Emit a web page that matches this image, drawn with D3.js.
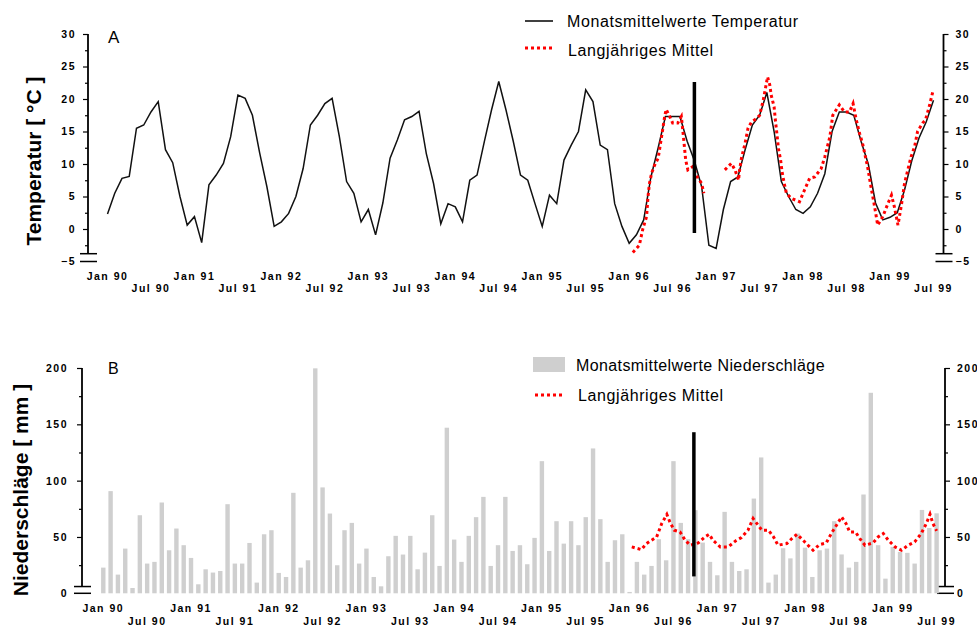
<!DOCTYPE html>
<html>
<head>
<meta charset="utf-8">
<script src="https://cdn.jsdelivr.net/npm/d3@7"></script>
<style>
body { margin: 0; background: #fff; }
text { font-family: "Liberation Sans", Arial, sans-serif; fill: #000; }
</style>
</head>
<body>
<div id="chart"></div>
<script>
// frame
const FRAME_WIDTH = 977;
const FRAME_HEIGHT = 626;

// monthly mean temperature, Jan 90 .. Jul 99
const TEMP_MONTHLY = [
  2.3, 5.5, 7.8, 8.1, 15.5, 16, 18, 19.6, 12.2, 10.2, 5, 0.6,
  1.9, -2.1, 6.8, 8.3, 10.1, 14.2, 20.6, 20.1, 17.5, 11.7, 6.5, 0.4,
  1.1, 2.4, 5, 9.3, 16, 17.5, 19.3, 20.1, 14.2, 7.3, 5.5, 1.1,
  3.0, -0.9, 4, 10.9, 13.7, 16.8, 17.3, 18.1, 11.6, 7, 0.8, 3.9,
  3.4, 1.1, 7.5, 8.3, 13.4, 18.3, 22.7, 18.3, 13.5, 8.3, 7.5, 3.9,
  0.4, 5.2, 3.9, 10.6, 12.9, 15, 21.4, 19.6, 12.9, 12.2, 3.9, 0.4,
  -2.2, -0.9, 1.4, 8, 12.5, 17.3, 17.3, 17.3, 13.5, 10.5, 6.5, -2.5,
  -3, 3, 7.3, 8, 12.2, 16, 17.5, 21, 15, 7.3, 5, 3,
  2.4, 3.4, 5.5, 8.5, 15, 18, 18, 17.5, 13.5, 10, 4, 1.4,
  1.8, 2.5, 6, 10.5, 14, 16.5, 19.8
];

// long term temperature mean (month index from Jan 90, value)
const TEMP_MEAN_MONTH = [
  72.5, 73.4, 73.9, 74.4, 74.6, 74.8, 75.1, 75.5, 76.0, 76.4, 76.9, 77.1, 77.6, 78.0, 78.7, 79.2,
  79.4, 79.8, 80.1, 80.8, 81.4, 82.0, 82.3, 83.8, 85.2, 86.1, 86.6, 87.1, 87.2, 87.5, 88.0, 88.4,
  88.9, 89.6, 90.0, 90.5, 90.9, 91.1, 91.4, 91.6, 92.0, 92.2, 92.4, 92.6, 92.9, 93.1, 93.4, 93.7,
  94.4, 95.5, 96.2, 96.9, 97.6, 98.5, 99.0, 99.7, 100.1, 101.0, 101.7, 102.4, 102.9, 103.3, 103.8,
  104.2, 104.9, 105.4, 105.8, 106.3, 107.0, 107.7, 108.2, 108.6, 109.1, 109.6, 110.0, 110.5, 110.9,
  111.4, 111.8, 112.5, 112.9, 113.4, 113.9
];
const TEMP_MEAN_VALUE = [
  -3.6, -2.5, 0.1, 1.9, 5, 7, 8.6, 9.8, 10.9, 13.7, 17.3, 18.4, 17.3, 16.3, 16.3, 17.3,
  15.2, 10.6, 9.1, 9.6, 8, 7, 5.5, null, 9.1, 10.1, 9.1, 7.5, 8.8, 10.9, 13.2, 15.5,
  16.5, 17, 17.5, 19.8, 22.2, 23.4, 22.2, 20.6, 18.8, 16.5, 14.5, 12.4, 10.6, 8.8, 7, 5.5,
  4.7, 4.2, 6, 7.8, 8, 9.3, 11.1, 14.2, 17.5, 19.1, 18, 18, 19.3, 17, 14.7,
  13.2, 9.6, 6.3, 3.9, 0.6, 1.9, 3.9, 5.2, 3.4, 0.6, 3.9, 7, 9.3, 11.1,
  12.7, 15, 16.3, 16.8, 18.8, 21.1
];

// monthly precipitation, Jan 90 .. Jul 99
const RAIN_MONTHLY = [
  22.8, 90.7, 16.6, 39.7, 4.7, 69.3, 26.4, 27.9, 80.6, 38.2, 57.5, 42.7,
  31.4, 8, 21.3, 18.4, 19.8, 79.1, 26.4, 26.4, 44.7, 9.5, 52.4, 56,
  18.1, 14.5, 89.2, 22.8, 29.3, 199.7, 94, 70.8, 24.9, 56, 62.5, 26.4,
  39.7, 14.5, 6.2, 32.9, 51, 34.4, 51, 21.3, 36.1, 69.3, 24.3, 147,
  47.7, 27.9, 51, 67.6, 85.6, 24.3, 42.7, 85.6, 37.6, 42.7, 25.8, 49.2,
  117.3, 37.6, 64, 44.1, 64, 42.7, 67.6, 128.6, 65.8, 27.9, 47.1, 52.4,
  1.2, 27.9, 16.6, 24.3, 48, 29.3, 117.3, 62.5, 48, 73.8, 45, 27.9,
  16, 72.3, 27.9, 19.8, 21.3, 84.1, 120.6, 9.5, 16.6, 40, 31, 53,
  40.5, 14.5, 38.2, 39.7, 64, 34.5, 22.8, 27.9, 87.7, 178, 42.7, 13,
  41.2, 36.7, 35.9, 26.4, 74, 58, 71
];

// long term precipitation mean
const RAIN_MEAN_MONTH = [
  72.3, 73.6, 74.3, 75.0, 75.7, 76.4, 77.1, 77.5, 78.1, 78.9, 79.6, 80.3, 81.4, 82.3, 82.9, 83.4,
  84.4, 85.5, 86.5, 87.3, 88.2, 88.9, 89.4, 90.1, 91.0, 91.7, 92.3, 93.5, 94.2, 94.9, 95.5, 96.4,
  97.1, 98.0, 98.9, 99.6, 100.3, 101.0, 101.6, 102.1, 102.9, 103.5, 104.2, 105.3, 106.0, 106.7,
  107.4, 108.3, 109.2, 110.1, 111.0, 111.9, 112.6, 113.1, 113.5, 114.0
];
const RAIN_MEAN_VALUE = [
  41.2, 38.8, 44.1, 47.1, 50, 62, 70, 63.4, 56, 54.5, 47.1, 42.7, 44.7, 50, 52.4, 47.1,
  41.2, 41.2, 46.5, 49.5, 56, 66.4, 62, 56, 56, 50, 42.7, 44.1, 48.6, 52.4, 48.6, 42.7,
  38.2, 43.3, 44.7, 53.1, 60.4, 67.8, 62, 54.5, 54.5, 48.6, 42.7, 44.7, 50, 53.1,
  47.1, 41.2, 38.2, 42.7, 45.6, 53.1, 62, 70.2, 62, 55.4
];

// time axis labels (every 6 months)
const TICK_MONTHS = [0, 6, 12, 18, 24, 30, 36, 42, 48, 54, 60, 66, 72, 78, 84, 90, 96, 102, 108, 114];
const TICK_LABELS = ["Jan 90", "Jul 90", "Jan 91", "Jul 91", "Jan 92", "Jul 92", "Jan 93", "Jul 93",
  "Jan 94", "Jul 94", "Jan 95", "Jul 95", "Jan 96", "Jul 96", "Jan 97", "Jul 97",
  "Jan 98", "Jul 98", "Jan 99", "Jul 99"];

const TEMP_TICKS = [-5, 0, 5, 10, 15, 20, 25, 30];
const TEMP_MINOR = [-2.5, 2.5, 7.5, 12.5, 17.5, 22.5, 27.5];
const RAIN_TICKS = [0, 50, 100, 150, 200];
const RAIN_MINOR = [25, 75, 125, 175];

// black marker (Oct 96)
const MARKER_MONTH = 81;
const TEMP_MARKER = [-0.6, 22.6];
const RAIN_MARKER = [15, 143];

const RED = "#ff0000";
const BAR_GREY = "#cfcfcf";

const svg = d3.select("#chart").append("svg")
  .attr("width", FRAME_WIDTH)
  .attr("height", FRAME_HEIGHT);

// scales
const X_TEMP = d3.scaleLinear().domain([0, 114]).range([107.5, 933.5]);
const Y_TEMP = d3.scaleLinear().domain([-5, 30]).range([261.5, 34]);
const X_RAIN = d3.scaleLinear().domain([0, 114]).range([103.3, 936.6]);
const Y_RAIN = d3.scaleLinear().domain([0, 200]).range([593.3, 368]);

// y axis with a break at the bottom
function drawYAxis(x, yScale, ticks, minor, side, breakVal, labelOffset) {
  const g = svg.append("g").attr("transform", "translate(" + x + ",0)");
  const axisFn = side === "left" ? d3.axisLeft : d3.axisRight;
  const major = g.append("g").call(axisFn(yScale).tickValues(ticks).tickSize(5).tickPadding(labelOffset));
  major.select(".domain").remove();
  major.selectAll("text")
    .attr("font-size", "10.5px")
    .attr("font-weight", "bold")
    .attr("letter-spacing", "1.5px")
    .attr("font-family", "'Liberation Sans', Arial, sans-serif");
  // the lowest tick is drawn as the break line
  major.selectAll(".tick line").filter((d) => d === ticks[0]).remove();
  const mn = g.append("g").call(axisFn(yScale).tickValues(minor).tickSize(3).tickFormat(""));
  mn.select(".domain").remove();
  g.selectAll(".tick line").attr("stroke", "#000").attr("stroke-width", 1.2);

  g.append("line")
    .attr("x1", 0).attr("x2", 0)
    .attr("y1", yScale(yScale.domain()[1])).attr("y2", yScale(breakVal))
    .attr("stroke", "#000").attr("stroke-width", 1.8);
  [breakVal, ticks[0]].forEach((v) => {
    g.append("line")
      .attr("x1", -8).attr("x2", 9)
      .attr("y1", yScale(v)).attr("y2", yScale(v))
      .attr("stroke", "#000").attr("stroke-width", 1.5);
  });
}

function drawTimeLabels(xScale, y1, y2) {
  svg.append("g").selectAll("text")
    .data(TICK_MONTHS)
    .enter()
    .append("text")
      .attr("x", (d) => xScale(d))
      .attr("y", (d, i) => i % 2 === 0 ? y1 : y2)
      .attr("text-anchor", "middle")
      .attr("font-size", "10.5px")
      .attr("font-weight", "bold")
      .attr("letter-spacing", "1.5px")
      .text((d, i) => TICK_LABELS[i]);
}

// ---------- PANEL A : temperature ----------
drawYAxis(88, Y_TEMP, TEMP_TICKS, TEMP_MINOR, "left", -3.8, 7);
drawYAxis(943.5, Y_TEMP, TEMP_TICKS, TEMP_MINOR, "right", -3.8, 7);
drawTimeLabels(X_TEMP, 280, 292);

svg.append("path")
  .datum(TEMP_MONTHLY)
  .attr("fill", "none")
  .attr("stroke", "#111")
  .attr("stroke-width", 1.5)
  .attr("d", d3.line().x((d, i) => X_TEMP(i)).y((d) => Y_TEMP(d)));

const tempMean = TEMP_MEAN_MONTH.map((m, i) => ({m: m, v: TEMP_MEAN_VALUE[i]}));
svg.append("path")
  .datum(tempMean)
  .attr("fill", "none")
  .attr("stroke", RED)
  .attr("stroke-width", 3)
  .attr("stroke-dasharray", "3,3")
  .attr("d", d3.line().defined((d) => d.v !== null).x((d) => X_TEMP(d.m)).y((d) => Y_TEMP(d.v)));

svg.append("line")
  .attr("x1", X_TEMP(MARKER_MONTH)).attr("x2", X_TEMP(MARKER_MONTH))
  .attr("y1", Y_TEMP(TEMP_MARKER[1])).attr("y2", Y_TEMP(TEMP_MARKER[0]))
  .attr("stroke", "#000").attr("stroke-width", 3.5);

svg.append("text").attr("x", 108).attr("y", 43).attr("font-size", "17px").text("A");

// Y label
svg.append("text")
  .attr("transform", "translate(41,161) rotate(-90)")
  .attr("text-anchor", "middle")
  .attr("font-size", "21px")
  .attr("font-weight", "bold")
  .text("Temperatur [ °C ]");

// legend A
svg.append("line").attr("x1", 525).attr("x2", 553).attr("y1", 21).attr("y2", 21)
  .attr("stroke", "#000").attr("stroke-width", 1.5);
svg.append("text").attr("x", 567).attr("y", 27).attr("font-size", "16px").attr("letter-spacing", "0.6px")
  .text("Monatsmittelwerte Temperatur");
svg.append("line").attr("x1", 525).attr("x2", 555).attr("y1", 48).attr("y2", 48)
  .attr("stroke", RED).attr("stroke-width", 3).attr("stroke-dasharray", "3,3");
svg.append("text").attr("x", 568).attr("y", 56).attr("font-size", "16px").attr("letter-spacing", "0.6px")
  .text("Langjähriges Mittel");

// ---------- PANEL B : precipitation ----------
drawYAxis(82, Y_RAIN, RAIN_TICKS, RAIN_MINOR, "left", 6, 9);
drawYAxis(945, Y_RAIN, RAIN_TICKS, RAIN_MINOR, "right", 6, 7);
drawTimeLabels(X_RAIN, 612, 625);

svg.append("g").selectAll("rect")
  .data(RAIN_MONTHLY)
  .enter()
  .append("rect")
    .attr("x", (d, i) => X_RAIN(i) - 2.2)
    .attr("y", (d) => Y_RAIN(d))
    .attr("width", 4.4)
    .attr("height", (d) => Y_RAIN(0) - Y_RAIN(d))
    .attr("fill", BAR_GREY);

const rainMean = RAIN_MEAN_MONTH.map((m, i) => ({m: m, v: RAIN_MEAN_VALUE[i]}));
svg.append("path")
  .datum(rainMean)
  .attr("fill", "none")
  .attr("stroke", RED)
  .attr("stroke-width", 3)
  .attr("stroke-dasharray", "3,3")
  .attr("d", d3.line().x((d) => X_RAIN(d.m)).y((d) => Y_RAIN(d.v)));

svg.append("line")
  .attr("x1", X_RAIN(MARKER_MONTH) - 1.5).attr("x2", X_RAIN(MARKER_MONTH) - 1.5)
  .attr("y1", Y_RAIN(RAIN_MARKER[1])).attr("y2", Y_RAIN(RAIN_MARKER[0]))
  .attr("stroke", "#000").attr("stroke-width", 3.5);

svg.append("text").attr("x", 108).attr("y", 374).attr("font-size", "16px").text("B");

svg.append("text")
  .attr("transform", "translate(28,490) rotate(-90)")
  .attr("text-anchor", "middle")
  .attr("font-size", "21px")
  .attr("font-weight", "bold")
  .text("Niederschläge [ mm ]");

// legend B
svg.append("rect").attr("x", 533).attr("y", 357).attr("width", 32).attr("height", 15).attr("fill", BAR_GREY);
svg.append("text").attr("x", 576).attr("y", 371).attr("font-size", "16px").attr("letter-spacing", "0.4px")
  .text("Monatsmittelwerte Niederschläge");
svg.append("line").attr("x1", 535).attr("x2", 565).attr("y1", 395).attr("y2", 395)
  .attr("stroke", RED).attr("stroke-width", 3).attr("stroke-dasharray", "3,3");
svg.append("text").attr("x", 578).attr("y", 401).attr("font-size", "16px").attr("letter-spacing", "0.6px")
  .text("Langjähriges Mittel");
</script>
</body>
</html>
